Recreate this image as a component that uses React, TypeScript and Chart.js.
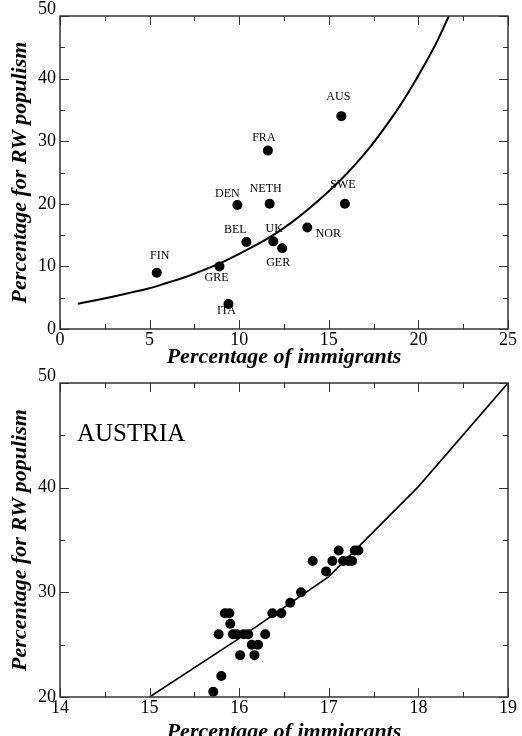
import React, { useEffect, useRef } from 'react';
import { Chart, registerables } from 'chart.js';

Chart.register(...registerables);

// ---------- Top panel data ----------
const countries = ['FIN', 'GRE', 'ITA', 'DEN', 'BEL', 'FRA', 'NETH', 'UK', 'GER', 'NOR', 'AUS', 'SWE'];
const immigrantPct = [5.4, 8.9, 9.4, 9.9, 10.4, 11.6, 11.7, 11.9, 12.4, 13.8, 15.7, 15.9];
const rwPopulismPct = [9.0, 10.0, 4.0, 19.8, 13.9, 28.5, 20.0, 14.0, 12.9, 16.2, 34.0, 20.0];

const fitCurveX = [1, 2, 3, 4, 5, 6, 7, 8, 9, 10, 11, 12, 13, 14, 15, 16, 17, 18, 19, 20, 21, 21.7];
const fitCurveY = [4.05, 4.6, 5.2, 5.85, 6.5, 7.4, 8.3, 9.4, 10.6, 12.0, 13.5, 15.2, 17.2, 19.5, 22.0, 24.8, 28.0, 31.7, 35.8, 40.5, 45.7, 50.0];

const topXTicks = { min: 0, max: 25, step: 5 };
const topYTicks = { min: 0, max: 50, step: 10 };

// ---------- Bottom panel data (Austria) ----------
const austriaImmigrantPct = [15.71, 15.80, 15.77, 15.84, 15.89, 15.90, 15.93, 15.97, 16.01, 16.05, 16.10, 16.14, 16.17, 16.21, 16.29, 16.37, 16.47, 16.57, 16.69, 16.82, 16.97, 17.04, 17.11, 17.16, 17.22, 17.26, 17.29, 17.33];
const austriaRwPct = [20.5, 22.0, 26.0, 28.0, 28.0, 27.0, 26.0, 26.0, 24.0, 26.0, 26.0, 25.0, 24.0, 25.0, 26.0, 28.0, 28.0, 29.0, 30.0, 33.0, 32.0, 33.0, 34.0, 33.0, 33.0, 33.0, 34.0, 34.0];

const austriaModelX = [15, 16, 17, 18, 19];
const austriaModelY = [20.0, 25.6, 31.5, 40.1, 50.0];

const bottomXTicks = { min: 14, max: 19, step: 1 };
const bottomYTicks = { min: 20, max: 50, step: 10 };

const xTitle = 'Percentage of immigrants';
const yTitle = 'Percentage for RW populism';
const panelLabel = 'AUSTRIA';

// label offsets (pixels) for country names relative to their dots
const labelOffsets: [number, number][] = [
  [3, -17], [-3, 11], [-2, 7], [-10, -11], [-11, -12], [-4, -13],
  [-4, -15], [1, -13], [-4, 15], [21, 6], [-3, -19], [-2, -19],
];

const SERIF = '"Liberation Serif", "Times New Roman", serif';

const frameTicksPlugin = {
  id: 'frameTicks',
  afterDraw(chart: any) {
    const { ctx, chartArea: a, scales } = chart;
    const xs = scales.x;
    const ys = scales.y;
    ctx.save();
    ctx.strokeStyle = '#333';
    ctx.lineWidth = 1;
    const major = 9;
    const minor = 5;
    const seg = (x1: number, y1: number, x2: number, y2: number) => {
      ctx.beginPath();
      ctx.moveTo(x1, y1);
      ctx.lineTo(x2, y2);
      ctx.stroke();
    };
    const xv = xs.ticks.map((t: any) => t.value);
    const yv = ys.ticks.map((t: any) => t.value);
    const drawX = (v: number, len: number) => {
      const p = Math.round(xs.getPixelForValue(v)) + 0.5;
      seg(p, a.bottom, p, a.bottom - len);
      seg(p, a.top, p, a.top + len);
    };
    const drawY = (v: number, len: number) => {
      const p = Math.round(ys.getPixelForValue(v)) + 0.5;
      seg(a.left, p, a.left + len, p);
      seg(a.right, p, a.right - len, p);
    };
    xv.forEach((v: number, i: number) => {
      drawX(v, major);
      if (i < xv.length - 1) drawX((v + xv[i + 1]) / 2, minor);
    });
    yv.forEach((v: number, i: number) => {
      drawY(v, major);
      if (i < yv.length - 1) drawY((v + yv[i + 1]) / 2, minor);
    });
    ctx.lineWidth = 1.5;
    ctx.strokeStyle = '#333';
    ctx.strokeRect(a.left, a.top, a.right - a.left, a.bottom - a.top);
    ctx.restore();
  },
};

const countryLabelsPlugin = {
  id: 'countryLabels',
  afterDatasetsDraw(chart: any) {
    const labels: string[] | undefined = chart.options.plugins.countryLabels?.labels;
    if (!labels) return;
    const meta = chart.getDatasetMeta(1);
    const { ctx } = chart;
    ctx.save();
    ctx.font = `12px ${SERIF}`;
    ctx.fillStyle = '#000';
    ctx.textAlign = 'center';
    ctx.textBaseline = 'middle';
    meta.data.forEach((pt: any, i: number) => {
      const [dx, dy] = labelOffsets[i] || [0, -14];
      ctx.fillText(labels[i], pt.x + dx, pt.y + dy);
    });
    ctx.restore();
  },
};

const panelLabelPlugin = {
  id: 'panelLabel',
  afterDatasetsDraw(chart: any) {
    const text: string | undefined = chart.options.plugins.panelLabel?.text;
    if (!text) return;
    const { ctx, chartArea: a } = chart;
    ctx.save();
    ctx.font = `25px ${SERIF}`;
    ctx.fillStyle = '#000';
    ctx.textAlign = 'left';
    ctx.textBaseline = 'alphabetic';
    ctx.fillText(text, a.left + 17, a.top + 58);
    ctx.restore();
  },
};

function makeScales(xr: any, yr: any, xHeight: number, xTitlePad: number) {
  return {
    x: {
      type: 'linear',
      min: xr.min,
      max: xr.max,
      grid: { display: false, drawTicks: false, tickLength: 0 },
      border: { display: false },
      ticks: { stepSize: xr.step, color: '#000', padding: 0, font: { family: SERIF, size: 18 } },
      title: {
        display: true,
        text: xTitle,
        color: '#000',
        font: { family: SERIF, size: 22, weight: 'bold', style: 'italic' },
        padding: { top: 0, bottom: xTitlePad },
      },
      afterFit: (s: any) => {
        s.height = xHeight;
        s.paddingLeft = 0;
        s.paddingRight = 0;
      },
    },
    y: {
      type: 'linear',
      min: yr.min,
      max: yr.max,
      grid: { display: false, drawTicks: false, tickLength: 0 },
      border: { display: false },
      ticks: {
        stepSize: yr.step,
        color: '#000',
        padding: 4,
        font: { family: SERIF, size: 18, lineHeight: 0.72 },
        // the topmost label sits slightly above its tick in the original
        callback: (v: any) => (v === yr.max ? [String(v), ''] : String(v)),
      },
      title: {
        display: true,
        text: yTitle,
        color: '#000',
        font: { family: SERIF, size: 22, weight: 'bold', style: 'italic' },
        padding: { top: 7.3, bottom: 0 },
      },
      afterFit: (s: any) => {
        s.width = 60;
        s.paddingTop = 0;
        s.paddingBottom = 0;
      },
    },
  };
}

export default function App() {
  const topRef = useRef<HTMLCanvasElement>(null);
  const botRef = useRef<HTMLCanvasElement>(null);

  useEffect(() => {
    const topCurve = fitCurveX.map((x, i) => ({ x, y: fitCurveY[i] }));
    const topPts = immigrantPct.map((x, i) => ({ x, y: rwPopulismPct[i] }));
    const botLine = austriaModelX.map((x, i) => ({ x, y: austriaModelY[i] }));
    const botPts = austriaImmigrantPct.map((x, i) => ({ x, y: austriaRwPct[i] }));

    const top = new Chart(topRef.current!, {
      type: 'scatter',
      data: {
        datasets: [
          {
            data: topCurve,
            showLine: true,
            borderColor: '#000',
            borderWidth: 2,
            pointRadius: 0,
            cubicInterpolationMode: 'monotone',
            fill: false,
          } as any,
          {
            data: topPts,
            backgroundColor: '#000',
            borderColor: '#000',
            pointRadius: 5,
            borderWidth: 0,
          },
        ],
      },
      options: {
        responsive: false,
        animation: false,
        devicePixelRatio: 1,
        layout: { padding: { top: 16, right: 14, left: 0, bottom: 0 } },
        plugins: {
          legend: { display: false },
          tooltip: { enabled: false },
          countryLabels: { labels: countries },
        } as any,
        scales: makeScales(topXTicks, topYTicks, 43, 1.8) as any,
      },
      plugins: [frameTicksPlugin, countryLabelsPlugin],
    });

    const bottom = new Chart(botRef.current!, {
      type: 'scatter',
      data: {
        datasets: [
          {
            data: botLine,
            showLine: true,
            borderColor: '#000',
            borderWidth: 1.6,
            pointRadius: 0,
            tension: 0,
            fill: false,
          } as any,
          {
            data: botPts,
            backgroundColor: '#000',
            borderColor: '#000',
            pointRadius: 5,
            borderWidth: 0,
          },
        ],
      },
      options: {
        responsive: false,
        animation: false,
        devicePixelRatio: 1,
        layout: { padding: { top: 23, right: 14, left: 0, bottom: 0 } },
        plugins: {
          legend: { display: false },
          tooltip: { enabled: false },
          panelLabel: { text: panelLabel },
        } as any,
        scales: makeScales(bottomXTicks, bottomYTicks, 53, 4.8) as any,
      },
      plugins: [frameTicksPlugin, panelLabelPlugin],
    });

    return () => {
      top.destroy();
      bottom.destroy();
    };
  }, []);

  return (
    <div style={{ position: 'absolute', left: 0, top: 0, width: 522, height: 736, overflow: 'hidden', background: '#fff' }}>
      <canvas ref={topRef} width={522} height={372} style={{ position: 'absolute', left: 0, top: 0 }} />
      <canvas ref={botRef} width={522} height={390} style={{ position: 'absolute', left: 0, top: 360 }} />
    </div>
  );
}
